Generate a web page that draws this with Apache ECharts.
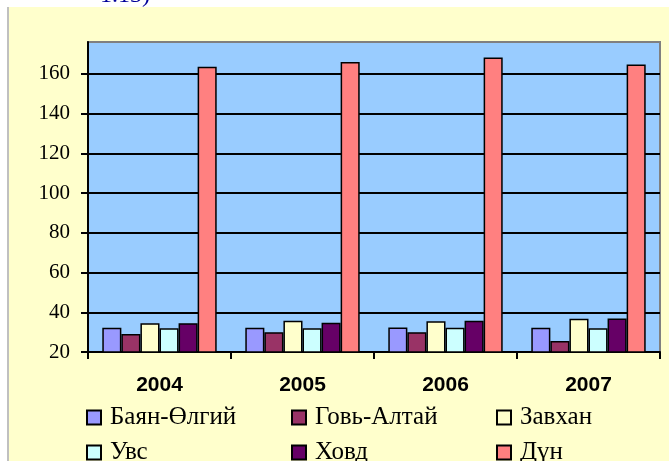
<!DOCTYPE html>
<html>
<head>
<meta charset="utf-8">
<script src="https://cdn.jsdelivr.net/npm/echarts@6/dist/echarts.min.js"></script>
<style>
  html, body { margin: 0; padding: 0; background: #fff; }
  #main { width: 669px; height: 461px; }
</style>
</head>
<body>
<div id="main"></div>
<script>
// data
var years = ['2004', '2005', '2006', '2007'];
var bayanOlgii = [32.2, 32.2, 32.3, 32.2];
var goviAltai = [29, 30, 30, 25.5];
var zavkhan = [34.5, 35.7, 35.5, 36.7];
var uvs = [32, 32, 32.2, 32];
var khovd = [34.5, 34.7, 35.7, 36.8];
var dun = [163.5, 165.9, 168.2, 164.7];

var names = ['Баян-Өлгий', 'Говь-Алтай', 'Завхан', 'Увс', 'Ховд', 'Дүн'];
var values = [bayanOlgii, goviAltai, zavkhan, uvs, khovd, dun];
var colors = ['#9999FF', '#993366', '#FFFFCC', '#CCFFFF', '#660066', '#FF8080'];

var serif = "'Times New Roman', 'Liberation Serif', serif";

var myChart = echarts.init(document.getElementById('main'));

var series = names.map(function (n, i) {
  return {
    name: n,
    type: 'bar',
    barGap: '0%',
    barCategoryGap: '20%',
    itemStyle: { color: colors[i], borderColor: '#000', borderWidth: 1.5 },
    data: values[i]
  };
});

var option = {
  animation: false,
  backgroundColor: '#fff',
  graphic: [
    { type: 'rect', z: -10, shape: { x: 9, y: 7, width: 660, height: 454 }, style: { fill: '#FFFFCC' } },
    { type: 'rect', z: -10, shape: { x: 7, y: 7, width: 2, height: 454 }, style: { fill: '#C0C0C0' } },
    { type: 'text', x: 100, y: 8, style: { text: '1.13)', font: '24px ' + serif, fill: '#000099', verticalAlign: 'bottom' } }
  ],
  legend: {
    left: 86,
    top: 405,
    width: 610,
    padding: 0,
    itemWidth: 14,
    itemHeight: 14,
    itemGap: 10,
    icon: 'rect',
    textStyle: {
      fontFamily: serif,
      fontSize: 25,
      color: '#000',
      width: 171,
      lineHeight: 16,
      padding: [0, 0, 0, 4]
    },
    data: names
  },
  grid: {
    left: 88,
    right: 9,
    top: 42,
    bottom: 109,
    show: true,
    backgroundColor: '#99CCFF',
    borderColor: '#808080',
    borderWidth: 2
  },
  xAxis: {
    type: 'category',
    data: years,
    axisLine: { lineStyle: { color: '#000', width: 2 } },
    axisTick: { show: true, alignWithLabel: false, length: 7, lineStyle: { color: '#000', width: 2 } },
    axisLabel: { fontFamily: 'Arial, Liberation Sans, sans-serif', fontWeight: 'bold', fontSize: 21, color: '#000', margin: 23 }
  },
  yAxis: {
    type: 'value',
    min: 20,
    max: 176,
    interval: 20,
    axisLine: { show: true, lineStyle: { color: '#000', width: 2 } },
    axisTick: { show: true, length: 7, lineStyle: { color: '#000', width: 2 } },
    axisLabel: { fontFamily: serif, fontSize: 21, color: '#000', margin: 18, showMaxLabel: false },
    splitLine: { show: true, showMaxLine: false, lineStyle: { color: '#000', width: 2 } }
  },
  series: series
};

myChart.setOption(option);
</script>
</body>
</html>
